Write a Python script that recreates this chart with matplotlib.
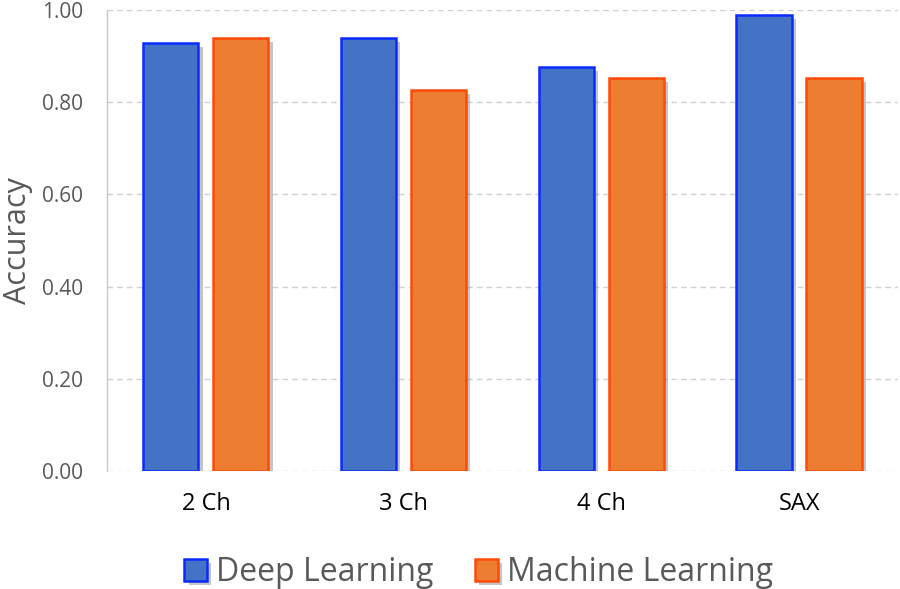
import matplotlib.pyplot as plt
import matplotlib.patheffects as pe
import numpy as np

categories = ["2 Ch", "3 Ch", "4 Ch", "SAX"]
deep_learning = [0.928, 0.939, 0.876, 0.989]
machine_learning = [0.939, 0.826, 0.852, 0.852]
series_names = ["Deep Learning", "Machine Learning"]
y_ticks = [0.0, 0.2, 0.4, 0.6, 0.8, 1.0]

plt.rcParams["font.family"] = ["Open Sans", "DejaVu Sans"]

fig = plt.figure(figsize=(9, 5.89), dpi=100)
ax = fig.add_axes([0.119, 0.2, 0.879, 0.783])

x = np.arange(len(categories))
width = 0.28
shadow = [pe.SimplePatchShadow(offset=(3, -3), shadow_rgbFace="#7f7f7f", alpha=0.45), pe.Normal()]

b1 = ax.bar(x - 0.178, deep_learning, width, color="#4472C4", edgecolor="#0A2BFF",
            linewidth=1.8, label=series_names[0], zorder=3)
b2 = ax.bar(x + 0.176, machine_learning, width, color="#ED7D31", edgecolor="#FF4A0A",
            linewidth=1.8, label=series_names[1], zorder=3)
for bar in list(b1) + list(b2):
    bar.set_path_effects(shadow)

ax.set_xlim(-0.5, 3.5)
ax.set_ylim(0, 1.0)
ax.set_yticks(y_ticks)
ax.set_yticklabels([f"{v:.2f}" for v in y_ticks])
ax.set_xticks(x)
ax.set_xticklabels(categories)

ax.yaxis.grid(True, linestyle=(0, (4, 3)), color="#d0d0d0", linewidth=1, zorder=0)
ax.set_axisbelow(True)
for side in ["top", "right", "bottom"]:
    ax.spines[side].set_visible(False)
ax.spines["left"].set_color("#c8c8c8")
ax.spines["left"].set_linewidth(1)
ax.spines["left"].set_bounds(0, 1.0)

ax.tick_params(axis="y", length=0, pad=17, labelsize=15, labelcolor="#595959")
ax.tick_params(axis="x", length=0, pad=15, labelsize=17, labelcolor="black")
ax.set_ylabel("Accuracy", fontsize=22, color="#595959", labelpad=7)

fig.legend(handles=[b1, b2], labels=series_names, loc="center", bbox_to_anchor=(0.532, 0.028),
           ncol=2, frameon=False, fontsize=23, labelcolor="#595959",
           handlelength=0.7, handleheight=0.7, handletextpad=0.3, columnspacing=1.3)

fig.savefig("out.png", dpi=100)
